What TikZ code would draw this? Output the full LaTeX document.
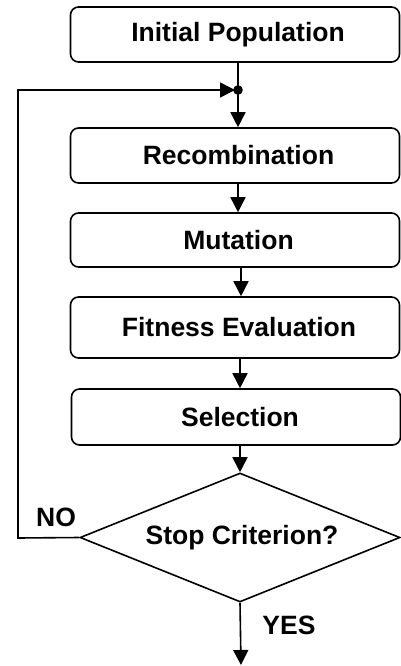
\documentclass[tikz,border=0pt]{standalone}
\usepackage{fontspec}
\setmainfont{Liberation Sans}
\usetikzlibrary{arrows.meta,shapes.geometric}
\begin{document}
\begin{tikzpicture}[x=1pt,y=-1pt,
  txt/.style={font=\fontsize{26.5}{29}\selectfont\bfseries},
  box/.style={draw,line width=1.6pt,rounded corners=8pt,minimum width=329pt,inner sep=0pt,txt},
  lbl/.style={txt,inner sep=0pt},
  conn/.style={line width=1.6pt,-{Triangle[length=15pt,width=15pt]}},
  plain/.style={line width=1.6pt}]
\useasboundingbox (0,0) rectangle (400,666);
\node[box,minimum height=55pt] (init) at (235,34.5) {\hspace*{6pt}Initial Population};
\node[box,minimum height=55pt] (rec) at (235,155.5) {\hspace*{7pt}Recombination};
\node[box,minimum height=54pt] (mut) at (235,240) {\hspace*{7pt}Mutation};
\node[box,minimum height=61pt] (fit) at (235,327.5) {\hspace*{8pt}Fitness Evaluation};
\node[box,minimum height=56pt] (sel) at (236,417) {\hspace*{8pt}Selection};
\node[diamond,draw,line width=1.6pt,aspect=2.48,minimum width=320pt,minimum height=129pt,inner sep=0pt,txt] (stop) at (240,537.5) {\raisebox{-4pt}{\hspace*{4pt}Stop Criterion?}};
\fill (238,90) circle (4.8pt) coordinate (dot);
\coordinate (c1) at (18,538);
\coordinate (c2) at (18,90);
\coordinate (endp) at (241,665);
\node[lbl] (no) at (56,517) {NO};
\node[lbl] (yes) at (289,625) {YES};
\draw[plain] (init.south -| dot) -- (dot);
\draw[conn] (dot) -- (rec.north -| dot);
\draw[conn] (stop.west) -- (c1) -- (c2) -- ([xshift=-3pt]dot);
\draw[conn] (rec.south -| dot) -- (mut.north -| dot);
\draw[conn] ([xshift=3pt]mut.south -| dot) -- ([xshift=3pt]fit.north -| dot);
\draw[conn] ([xshift=2pt]fit.south -| dot) -- ([xshift=2pt]sel.north -| dot);
\draw[conn] (sel.south -| stop.north) -- (stop.north);
\draw[conn] (stop.south) -- (endp);
\end{tikzpicture}
\end{document}
